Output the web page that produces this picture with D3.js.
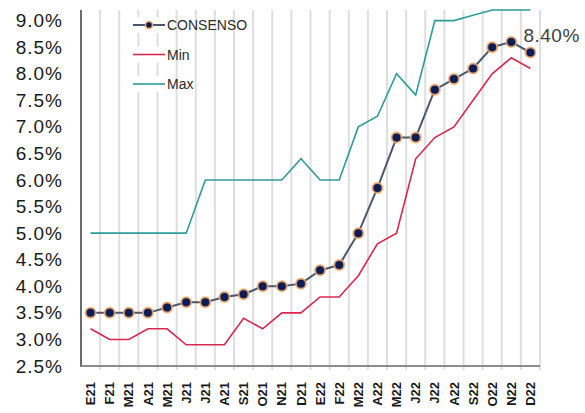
<html>
<head>
    <script src="https://d3js.org/d3.v7.min.js"></script>
    <style>
        html,body{
            margin: 0px;
            padding: 0px;
            background-color: #ffffff;
        }
        text {
            font-family: "Liberation Sans", Arial, sans-serif;
        }
    </style>
</head>
<body>
    <div id="chart"></div>
    <script>
        // Monthly labels E21 .. D22
        const months = ["E21","F21","M21","A21","M21","J21","J21","A21","S21","O21","N21","D21",
                        "E22","F22","M22","A22","M22","J22","J22","A22","S22","O22","N22","D22"];
        const consenso = [3.5, 3.5, 3.5, 3.5, 3.6, 3.7, 3.7, 3.8, 3.85, 4.0, 4.0, 4.05,
                          4.3, 4.4, 5.0, 5.85, 6.8, 6.8, 7.7, 7.9, 8.1, 8.5, 8.6, 8.4];
        const minVals = [3.2, 3.0, 3.0, 3.2, 3.2, 2.9, 2.9, 2.9, 3.4, 3.2, 3.5, 3.5,
                         3.8, 3.8, 4.2, 4.8, 5.0, 6.4, 6.8, 7.0, 7.5, 8.0, 8.3, 8.1];
        const maxVals = [5.0, 5.0, 5.0, 5.0, 5.0, 5.0, 6.0, 6.0, 6.0, 6.0, 6.0, 6.4,
                         6.0, 6.0, 7.0, 7.2, 8.0, 7.6, 9.0, 9.0, 9.1, 9.2, 9.2, 9.2];
        const yTicks = [2.5, 3.0, 3.5, 4.0, 4.5, 5.0, 5.5, 6.0, 6.5, 7.0, 7.5, 8.0, 8.5, 9.0];
        const seriesNames = ["CONSENSO", "Min", "Max"];

        const W = 585, H = 413;
        const plot = {left: 81, right: 540, top: 10, bottom: 366};

        const svg = d3.select("#chart").append("svg")
            .attr("width", W)
            .attr("height", H);

        const x = d3.scaleBand()
            .domain(d3.range(months.length))
            .range([plot.left, plot.right]);
        const cx = i => x(i) + x.bandwidth() / 2;

        const y = d3.scaleLinear()
            .domain([2.5, 9.2])
            .range([plot.bottom, plot.top]);

        // vertical gridlines at category boundaries
        svg.append("g")
            .selectAll("line")
            .data(d3.range(1, months.length + 1))
            .enter().append("line")
                .attr("x1", d => plot.left + d * x.step())
                .attr("x2", d => plot.left + d * x.step())
                .attr("y1", plot.top)
                .attr("y2", plot.bottom + 4)
                .attr("stroke", "#dedede")
                .attr("stroke-width", 2);

        // Y axis labels
        const yAxis = svg.append("g")
            .attr("transform", "translate(" + plot.left + ",0)")
            .call(d3.axisLeft(y).tickValues(yTicks).tickSize(0).tickPadding(18)
                .tickFormat(d => d3.format(".1f")(d) + "%"));
        yAxis.select(".domain").remove();
        yAxis.selectAll(".tick text")
            .attr("font-size", 19)
            .attr("letter-spacing", 1)
            .attr("fill", "#1a1a1a")
            .attr("font-family", "Liberation Sans, Arial, sans-serif");

        // X axis labels (rotated)
        const xAxis = svg.append("g")
            .attr("transform", "translate(0," + plot.bottom + ")")
            .call(d3.axisBottom(x).tickSize(0).tickFormat(i => months[i]));
        xAxis.select(".domain").remove();
        xAxis.selectAll(".tick text")
            .attr("font-size", 13)
            .attr("font-weight", "bold")
            .attr("fill", "#1a1a1a")
            .attr("font-family", "Liberation Sans, Arial, sans-serif")
            .attr("text-anchor", "end")
            .attr("transform", "rotate(-90)")
            .attr("x", -16)
            .attr("y", 0)
            .attr("dy", "0.35em");

        // axis lines
        svg.append("line")
            .attr("x1", plot.left).attr("x2", plot.left)
            .attr("y1", plot.top).attr("y2", plot.bottom + 1)
            .attr("stroke", "#3a3a3a").attr("stroke-width", 1.5);
        svg.append("line")
            .attr("x1", plot.left).attr("x2", plot.right)
            .attr("y1", plot.bottom).attr("y2", plot.bottom)
            .attr("stroke", "#8c8c8c").attr("stroke-width", 2);

        const line = d3.line()
            .x((d, i) => cx(i))
            .y(d => y(d));

        svg.append("path")
            .datum(maxVals)
            .attr("fill", "none")
            .attr("stroke", "#2e9c9a")
            .attr("stroke-width", 1.6)
            .attr("d", line);

        svg.append("path")
            .datum(minVals)
            .attr("fill", "none")
            .attr("stroke", "#d8284f")
            .attr("stroke-width", 1.6)
            .attr("d", line);

        svg.append("path")
            .datum(consenso)
            .attr("fill", "none")
            .attr("stroke", "#4a566c")
            .attr("stroke-width", 2)
            .attr("d", line);

        svg.append("g")
            .selectAll("circle")
            .data(consenso)
            .enter().append("circle")
                .attr("cx", (d, i) => cx(i))
                .attr("cy", d => y(d))
                .attr("r", 5)
                .attr("fill", "#0b1d57")
                .attr("stroke", "#f2a969")
                .attr("stroke-opacity", 0.85)
                .attr("stroke-width", 2);

        // last value label
        const last = consenso.length - 1;
        svg.append("text")
            .attr("x", cx(last) - 7)
            .attr("y", y(consenso[last]) - 11)
            .attr("font-size", 19)
            .attr("letter-spacing", 0.5)
            .attr("fill", "#404040")
            .text(d3.format(".2f")(consenso[last]) + "%");

        // legend
        const legendColors = ["#4a566c", "#d8284f", "#2e9c9a"];
        const legend = svg.append("g")
            .selectAll("g")
            .data(seriesNames)
            .enter().append("g")
                .attr("transform", (d, i) => "translate(133," + (25 + i * 29.5) + ")");
        legend.append("rect")
            .attr("x", -2).attr("y", -8)
            .attr("width", 32).attr("height", 16)
            .attr("fill", "#ffffff");
        legend.append("line")
            .attr("x1", 0).attr("x2", 32)
            .attr("stroke", (d, i) => legendColors[i])
            .attr("stroke-width", (d, i) => i === 0 ? 2 : 1.6);
        legend.filter((d, i) => i === 0).append("circle")
            .attr("cx", 16).attr("r", 3.5)
            .attr("fill", "#0b1d57")
            .attr("stroke", "#f2a969")
            .attr("stroke-width", 1.5);
        legend.append("text")
            .attr("x", 34)
            .attr("dy", "0.36em")
            .attr("font-size", 14)
            .attr("fill", "#2b2b2b")
            .text(d => d);
    </script>
</body>
</html>
